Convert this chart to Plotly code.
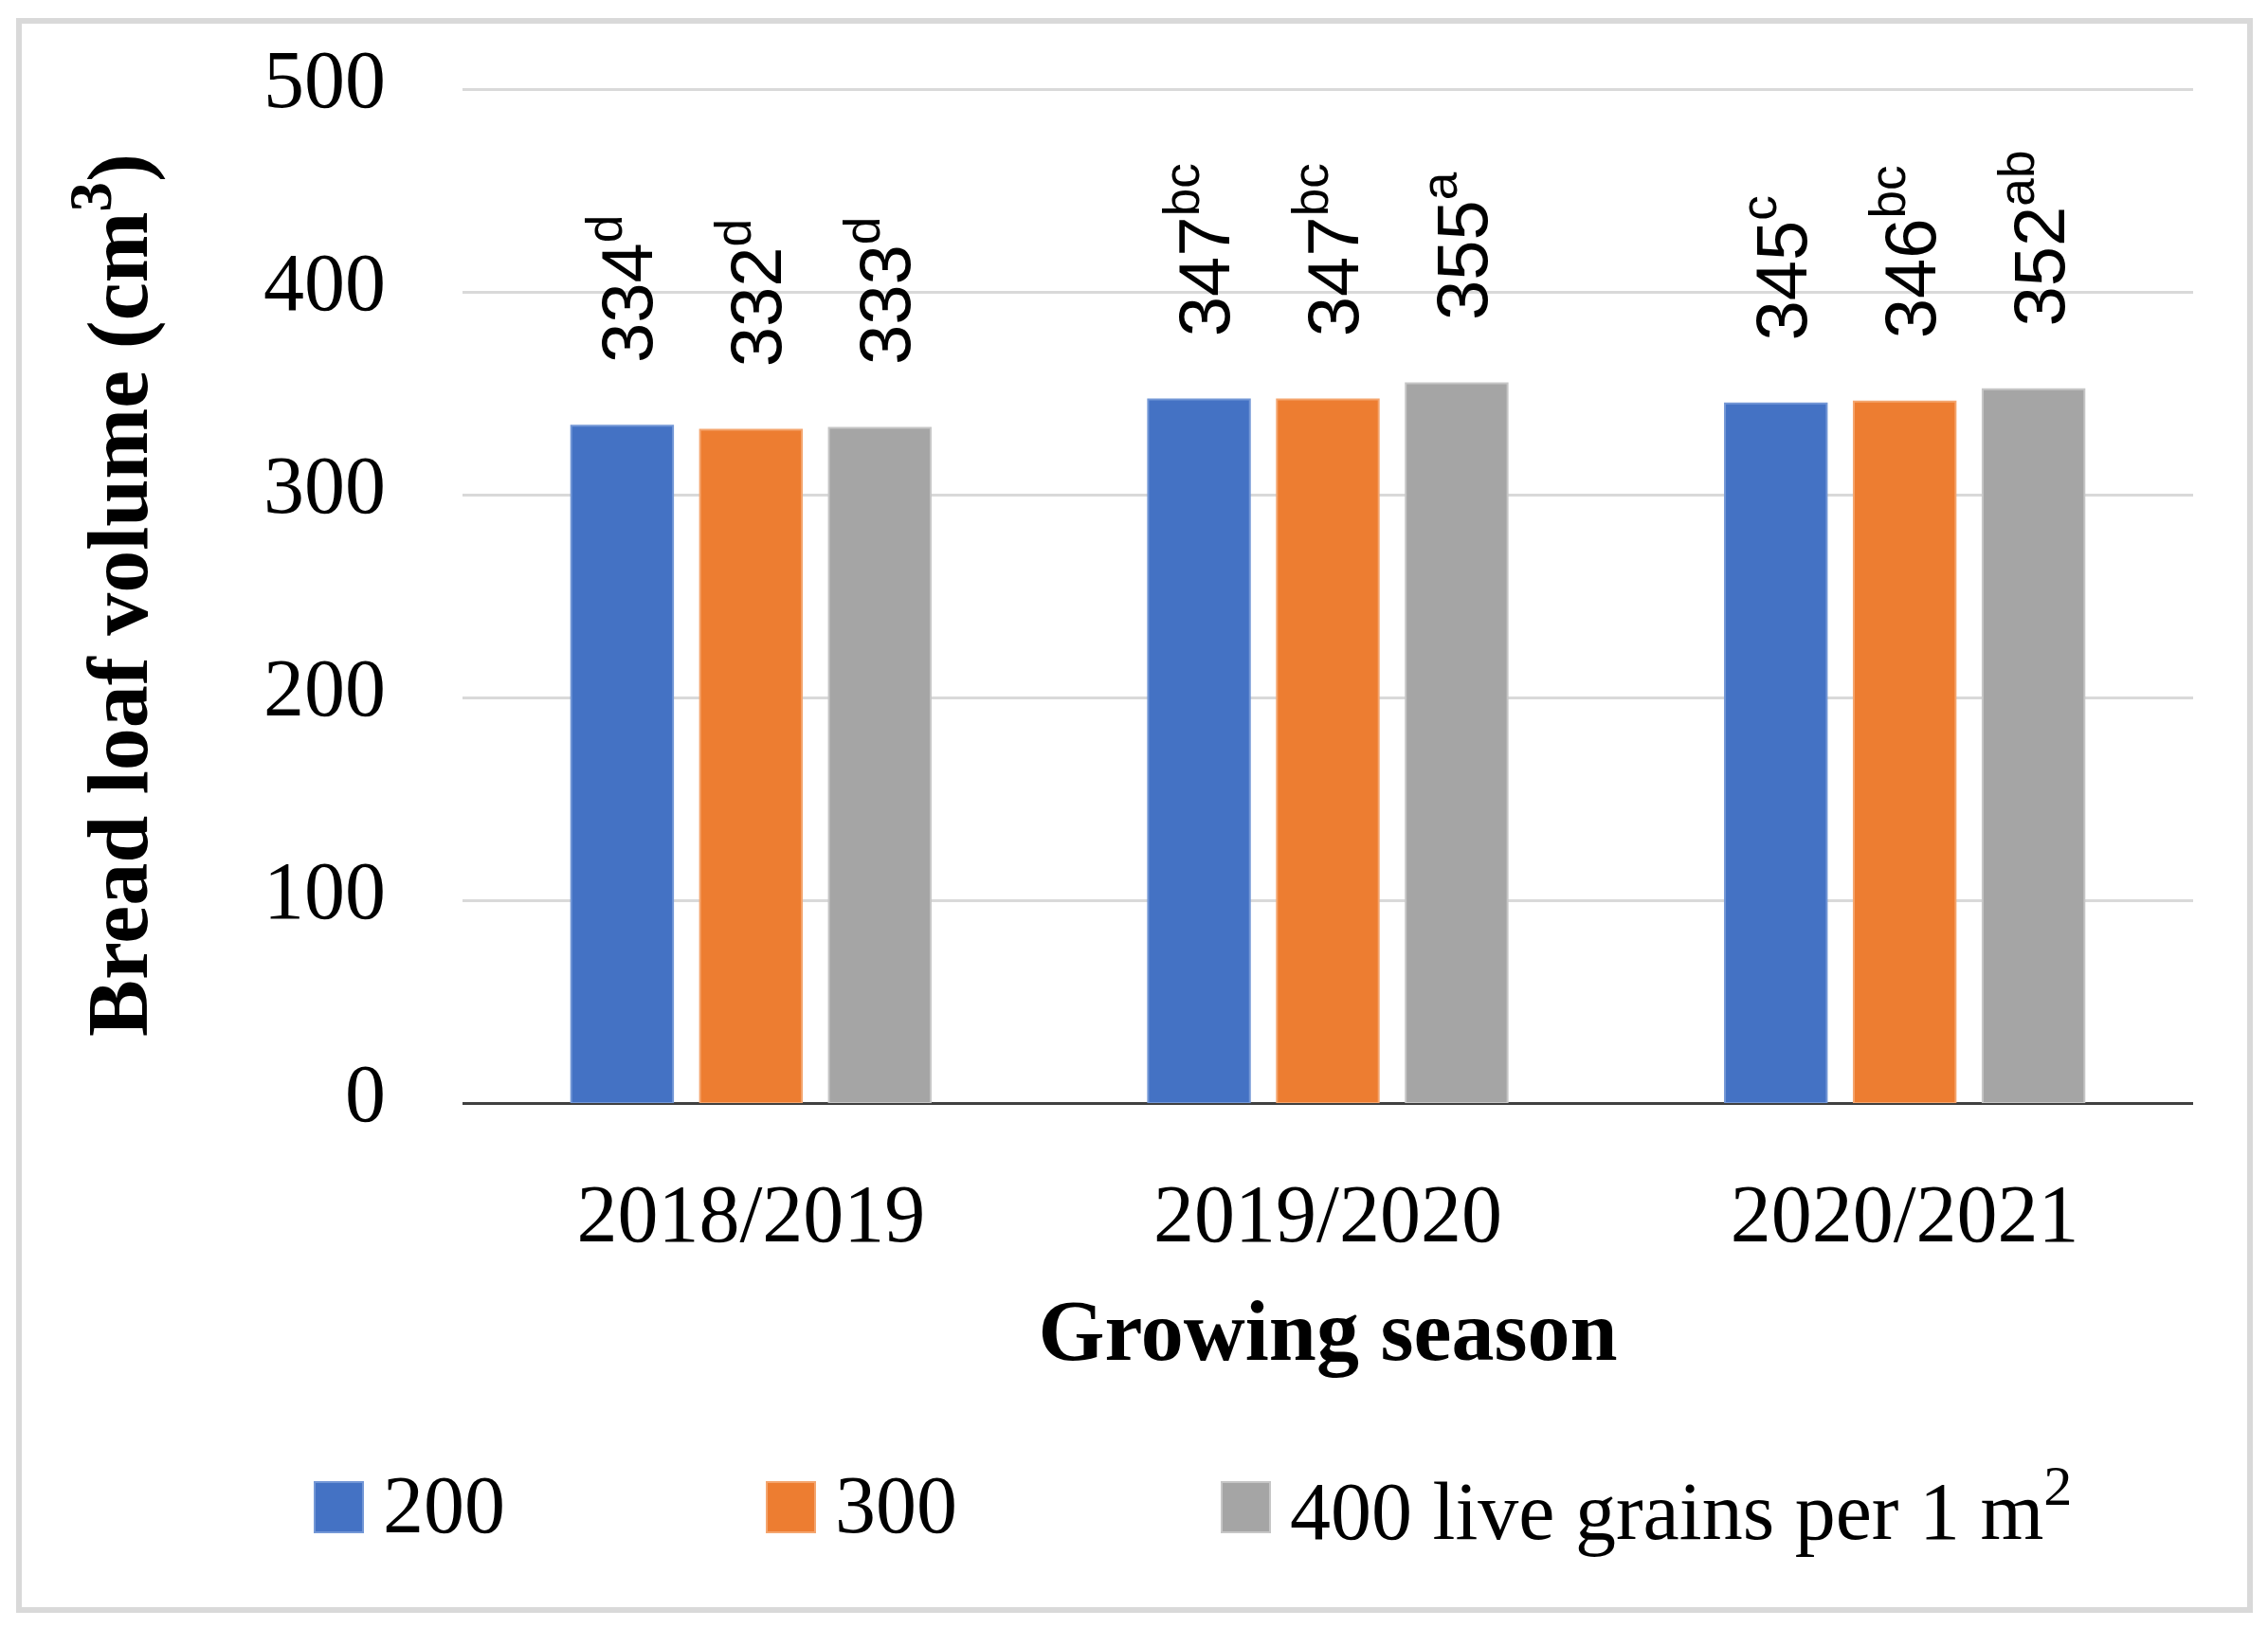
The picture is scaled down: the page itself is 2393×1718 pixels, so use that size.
import plotly.graph_objects as go

# ---- data ----
seasons = ["2018/2019", "2019/2020", "2020/2021"]
series_names = ["200", "300", "400 live grains per 1 m<sup>2</sup>"]
vals_200 = [334, 347, 345]
vals_300 = [332, 347, 346]
vals_400 = [333, 355, 352]
letters_200 = ["d", "bc", "c"]
letters_300 = ["d", "bc", "bc"]
letters_400 = ["d", "a", "ab"]
y_ticks = [0, 100, 200, 300, 400, 500]

values = [vals_200, vals_300, vals_400]
letters = [letters_200, letters_300, letters_400]
colors = ["#4472C4", "#ED7D31", "#A5A5A5"]
edge_colors = ["#7397D6", "#F4A56E", "#C6C6C6"]

# page body has an 8px margin: compensate so the figure fills the window
OFF = 8
W, H = 2393 - OFF, 1718 - OFF
ML, MR, MT, MB = 488 - OFF, 79, 92 - OFF, 554
PW, PH = W - ML - MR, H - MT - MB


def px(x):  # window pixel -> paper x
    return (x - OFF - ML) / PW


def py(y):  # window pixel -> paper y
    return (H + OFF - MB - y) / PH


SERIF = "Liberation Serif"
SANS = "Liberation Sans"
NB = "\u00a0"

fig = go.Figure()
for i in range(3):
    txt = [f"{NB*3}{v}<sup>{l}</sup>" for v, l in zip(values[i], letters[i])]
    fig.add_trace(go.Bar(
        x=seasons, y=values[i], name=series_names[i],
        marker=dict(color=colors[i], line=dict(color=edge_colors[i], width=2)),
        text=txt, textposition="outside", textangle=-90,
        textfont=dict(family=SANS, size=76, color="black"),
        constraintext="none", cliponaxis=False, showlegend=False,
    ))

shapes = []
annotations = []
# outer border
shapes.append(dict(type="rect", xref="paper", yref="paper",
                   x0=px(20), x1=px(2374), y0=py(1699), y1=py(22),
                   line=dict(color="#D9D9D9", width=6), fillcolor="rgba(0,0,0,0)",
                   layer="below"))

# manual legend
leg_sq_x = [332, 809, 1289]
for i in range(3):
    x0 = leg_sq_x[i]
    shapes.append(dict(type="rect", xref="paper", yref="paper",
                       x0=px(x0), x1=px(x0 + 51), y0=py(1617), y1=py(1564),
                       fillcolor=colors[i], line=dict(color=edge_colors[i], width=2)))
    annotations.append(dict(xref="paper", yref="paper", x=px(x0 + 70), y=py(1588),
                            xanchor="left", yanchor="middle", showarrow=False,
                            text=series_names[i],
                            font=dict(family=SERIF, size=86, color="black")))

fig.update_layout(
    width=W, height=H,
    margin=dict(l=ML, r=MR, t=MT, b=MB),
    paper_bgcolor="white", plot_bgcolor="white",
    barmode="group", bargap=0.33, bargroupgap=0.21,
    shapes=shapes, annotations=annotations,
    showlegend=False,
)
fig.update_yaxes(
    range=[0, 501], tickvals=y_ticks,
    showgrid=True, gridcolor="#D9D9D9", gridwidth=3,
    zeroline=True, zerolinecolor="#404040", zerolinewidth=3,
    showline=False, ticks="",
    tickfont=dict(family=SERIF, size=86, color="black"),
    ticklabelstandoff=80, ticklabelshift=-11,
    title=dict(text="<b>Bread loaf volume (cm<sup>3</sup>)</b>",
               font=dict(family=SERIF, size=90, color="black"), standoff=92),
)
fig.update_xaxes(
    showgrid=False, showline=False, ticks="",
    tickfont=dict(family=SERIF, size=86, color="black"),
    ticklabelstandoff=59,
    title=dict(text="<b>Growing season</b>",
               font=dict(family=SERIF, size=90, color="black"), standoff=43),
)

fig.write_html("out.html")
